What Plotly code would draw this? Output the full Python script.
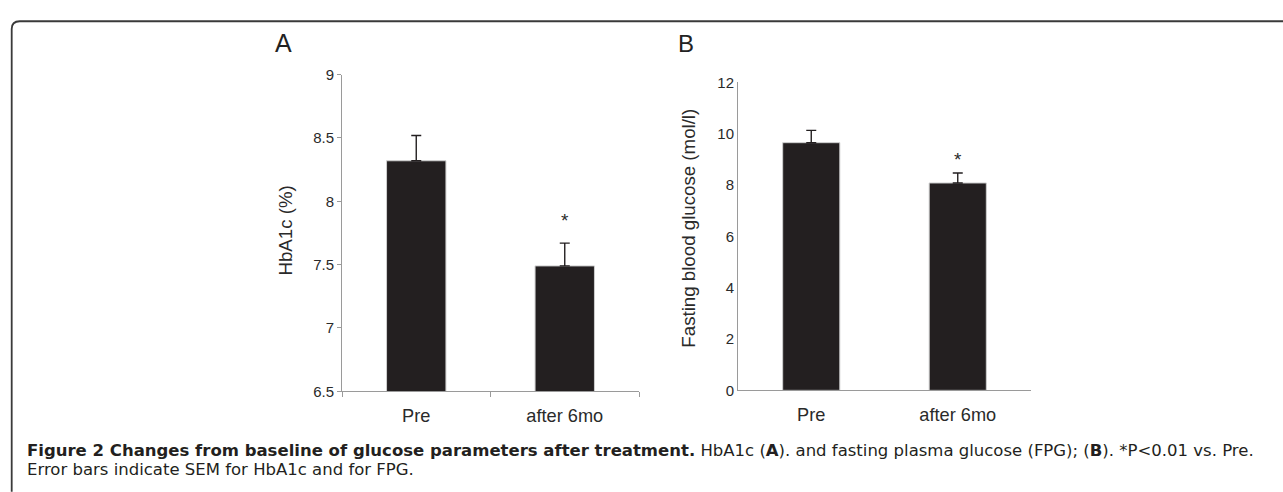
import plotly.graph_objects as go

categories = ["Pre", "after 6mo"]
hba1c_mean = [8.32, 7.49]
hba1c_sem = [0.20, 0.18]
fpg_mean = [9.65, 8.08]
fpg_sem = [0.48, 0.39]
sig_hba1c = [None, 7.85]
sig_fpg = [None, 9.0]

W, H = 1283, 492
BAR = "#231f20"
AX = "#9a9a9a"
TXT = "#2a2a2a"

def px(x):
    return x / W

def py(y):
    return 1 - y / H

fig = go.Figure()
fig.add_trace(go.Bar(
    x=categories, y=hba1c_mean, marker=dict(color=BAR, line=dict(color="#cfcfcf", width=1)),
    error_y=dict(type="data", array=hba1c_sem, arrayminus=[0, 0], color="#231f20", thickness=1.4, width=5),
    xaxis="x", yaxis="y", width=0.4, showlegend=False))
fig.add_trace(go.Bar(
    x=categories, y=fpg_mean, marker=dict(color=BAR, line=dict(color="#cfcfcf", width=1)),
    error_y=dict(type="data", array=fpg_sem, arrayminus=[0, 0], color="#231f20", thickness=1.4, width=5),
    xaxis="x2", yaxis="y2", width=0.39, showlegend=False))

FONT = "Liberation Sans, Arial"
tickfont = dict(family=FONT, size=15, color=TXT)
catfont = dict(family=FONT, size=18.2, color=TXT)
titlefont = dict(family=FONT, size=18.7, color=TXT)

fig.update_layout(
    width=W, height=H, margin=dict(l=0, r=0, t=0, b=0),
    paper_bgcolor="white", plot_bgcolor="white",
    xaxis=dict(domain=[px(342), px(639)], anchor="y", showline=True, linecolor=AX, linewidth=1,
               ticks="outside", tickson="boundaries", ticklen=5, tickcolor=AX,
               tickfont=catfont, ticklabelstandoff=8, showgrid=False),
    yaxis=dict(domain=[py(396), py(68)], anchor="x", range=[6.5, 9], dtick=0.5,
               showline=True, linecolor=AX, linewidth=1, ticks="outside", ticklen=4, tickcolor=AX,
               tickfont=tickfont, showgrid=False, zeroline=False),
    xaxis2=dict(domain=[px(738), px(1031)], anchor="y2", showline=True, linecolor=AX, linewidth=1,
                ticks="", tickfont=catfont, ticklabelstandoff=8, showgrid=False),
    yaxis2=dict(domain=[py(395), py(76)], anchor="x2", range=[0, 12], dtick=2,
                showline=True, linecolor=AX, linewidth=1, ticks="", ticklen=0,
                tickfont=tickfont, showgrid=False, zeroline=False),
)

# axis titles
fig.add_annotation(x=px(285.5), y=py(230), xref="paper", yref="paper", text="HbA1c (%)",
                   textangle=-90, showarrow=False, xanchor="center", yanchor="middle", font=titlefont)
fig.add_annotation(x=px(688.5), y=py(227), xref="paper", yref="paper", text="Fasting blood glucose (mol/l)",
                   textangle=-90, showarrow=False, xanchor="center", yanchor="middle", font=titlefont)

for cat, v in zip(categories, sig_hba1c):
    if v is not None:
        fig.add_annotation(x=cat, y=v, xref="x", yref="y", text="*", showarrow=False,
                           font=dict(family=FONT, size=19, color=TXT))
for cat, v in zip(categories, sig_fpg):
    if v is not None:
        fig.add_annotation(x=cat, y=v, xref="x2", yref="y2", text="*", showarrow=False,
                           font=dict(family=FONT, size=19, color=TXT))

fig.add_annotation(x=px(283.5), y=py(35.5), xref="paper", yref="paper", text="A", showarrow=False,
                   xanchor="center", yanchor="middle", font=dict(family=FONT, size=25, color="#222222"))
fig.add_annotation(x=px(685.5), y=py(35.5), xref="paper", yref="paper", text="B", showarrow=False,
                   xanchor="center", yanchor="middle", font=dict(family=FONT, size=24, color="#222222"))

cap1 = ("<b>Figure 2 Changes from baseline of glucose parameters after treatment.</b> "
        "HbA1c (<b>A</b>). and fasting plasma glucose (FPG); (<b>B</b>). *P&lt;0.01 vs. Pre.")
cap2 = "Error bars indicate SEM for HbA1c and for FPG."
capfont = dict(family="DejaVu Sans", size=16.5, color="#231f20")
fig.add_annotation(x=px(25), y=py(457), xref="paper", yref="paper", text=cap1, showarrow=False,
                   xanchor="left", yanchor="middle", font=capfont)
fig.add_annotation(x=px(25), y=py(477), xref="paper", yref="paper", text=cap2, showarrow=False,
                   xanchor="left", yanchor="middle", font=capfont)

r = 8
path = (f"M {px(11.7)},{py(500)} L {px(11.7)},{py(12.7 + r)} "
        f"Q {px(11.7)},{py(12.7)} {px(11.7 + r)},{py(12.7)} L {px(1300)},{py(12.7)}")
fig.add_shape(type="path", path=path, xref="paper", yref="paper",
              line=dict(color="#3a3a3a", width=1.8))

fig.write_html("out.html", config={"displayModeBar": False},
               post_script="document.body.style.margin='0';document.body.style.overflow='hidden';")
